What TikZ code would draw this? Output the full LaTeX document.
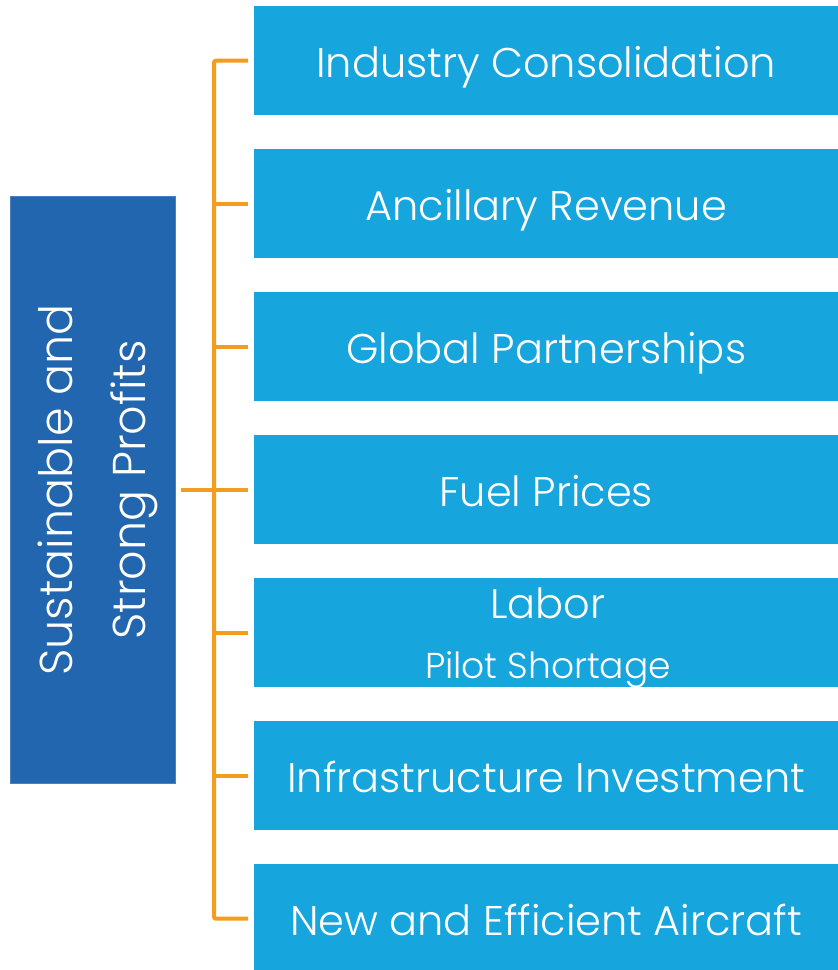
\documentclass[tikz,border=0pt]{standalone}
\usepackage{fontspec}
\setmainfont{Poppins}[UprightFont={* Light}]
\definecolor{itemblue}{HTML}{17A5DE}
\definecolor{mainblue}{HTML}{2366B0}
\definecolor{mainedge}{HTML}{4A80C0}
\definecolor{bracket}{HTML}{F39C1F}
\begin{document}
\begin{tikzpicture}[x=1pt,y=-1pt,
  item/.style={fill=itemblue, draw=none, anchor=north west, minimum width=584pt, minimum height=109pt, inner sep=0pt, text height=33pt, text depth=0pt, text=white, font=\fontsize{41.5}{48}\selectfont},
  mainbox/.style={fill=mainblue, draw=mainedge, line width=0.8pt, anchor=north west, minimum width=165pt, minimum height=587pt, inner sep=0pt},
  maintext/.style={rotate=90, anchor=base, inner sep=0pt, text=white, font=\fontsize{46}{52}\selectfont},
  subtext/.style={anchor=base, inner sep=0pt, text=white},
  link/.style={draw=bracket, line width=4pt}]
\useasboundingbox (0,0) rectangle (838,970);
\coordinate (bar) at (214,0);
\node[mainbox] (main) at (10,196) {};
\node[maintext] (mt1) at (72,490) {Sustainable and};
\node[maintext] (mt2) at (145,490) {Strong Profits};
\node[item] (b1) at (254,6) {Industry Consolidation};
\node[item] (b2) at (254,149) {Ancillary Revenue};
\node[item] (b3) at (254,292) {Global Partnerships};
\node[item] (b4) at (254,435) {Fuel Prices};
\node[item] (b5) at (254,578) {};
\node[subtext, font=\fontsize{41.5}{48}\selectfont] (lab) at (548,618) {Labor};
\node[subtext, font=\fontsize{36}{42}\selectfont] (pil) at (548,678) {Pilot Shortage};
\node[item] (b6) at (254,721) {Infrastructure Investment};
\node[item] (b7) at (254,864) {New and Efficient Aircraft};
\draw[link, rounded corners=2pt] ([xshift=-6pt]b1.west) -- (b1.west -| bar) -- (b7.west -| bar) -- ([xshift=-6pt]b7.west);
\foreach \b in {b2,b3,b4,b5,b6} \draw[link] (\b.west -| bar) -- ([xshift=-6pt]\b.west);
\draw[link] ([xshift=5pt]main.east) -- (main.east -| bar);
\end{tikzpicture}
\end{document}
